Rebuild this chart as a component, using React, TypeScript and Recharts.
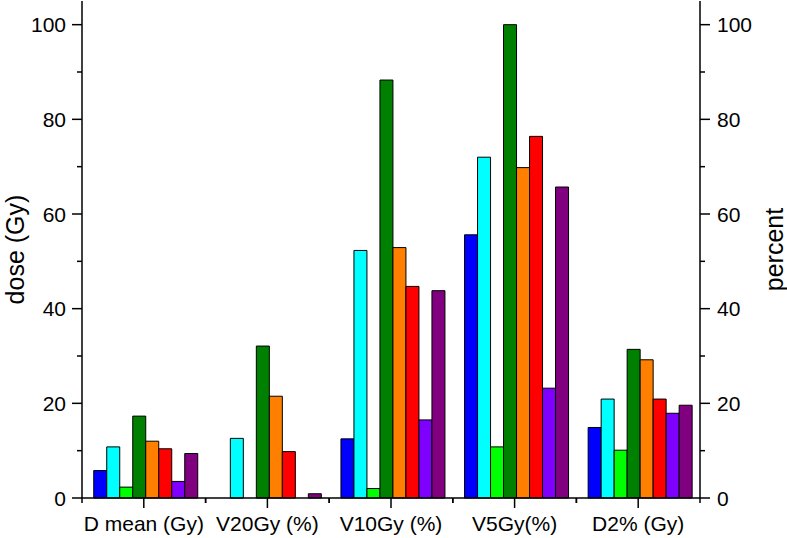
import { BarChart, Bar, XAxis, YAxis } from 'recharts'

const categories = ['D mean (Gy)', 'V20Gy (%)', 'V10Gy (%)', 'V5Gy(%)', 'D2% (Gy)']
const blue = [5.8, 0, 12.5, 55.6, 14.9]
const cyan = [10.8, 12.6, 52.3, 72.0, 20.9]
const lime = [2.3, 0, 2.0, 10.8, 10.1]
const darkGreen = [17.3, 32.1, 88.3, 100, 31.4]
const orange = [12.0, 21.5, 52.9, 69.8, 29.2]
const red = [10.4, 9.8, 44.7, 76.4, 20.9]
const violet = [3.5, 0, 16.5, 23.2, 17.9]
const purple = [9.4, 0.9, 43.8, 65.7, 19.6]
const yTicks = [0, 10, 20, 30, 40, 50, 60, 70, 80, 90, 100]

// both axes share the 0-105 scale, so half the series hang on the right one
const series = [
  { key: 'blue', values: blue, color: '#0000ff', axis: 'left' },
  { key: 'cyan', values: cyan, color: '#00ffff', axis: 'left' },
  { key: 'lime', values: lime, color: '#00ff00', axis: 'left' },
  { key: 'darkGreen', values: darkGreen, color: '#008000', axis: 'left' },
  { key: 'orange', values: orange, color: '#ff8000', axis: 'right' },
  { key: 'red', values: red, color: '#ff0000', axis: 'right' },
  { key: 'violet', values: violet, color: '#8000ff', axis: 'right' },
  { key: 'purple', values: purple, color: '#800080', axis: 'right' },
]

const data = categories.map((name, i) => {
  const row: any = { name }
  series.forEach(s => { row[s.key] = s.values[i] })
  return row
})

const W = 787
const H = 538
const LEFT_W = 82
const RIGHT_W = 87
const PLOT_W = W - LEFT_W - RIGHT_W
const FONT = '"Liberation Sans", Arial, sans-serif'

function LeftTick(props: any) {
  const { x, y, payload } = props
  const major = payload.value % 20 === 0
  return (
    <g>
      <line x1={x} x2={x - (major ? 10 : 5)} y1={y} y2={y} stroke="#000" strokeWidth={1.5} />
      {major && (
        <text x={x - 16} y={y} dy="0.36em" textAnchor="end" fontSize={21} fill="#000" fontFamily={FONT}>
          {payload.value}
        </text>
      )}
    </g>
  )
}

function RightTick(props: any) {
  const { x, y, payload } = props
  const major = payload.value % 20 === 0
  return (
    <g>
      <line x1={x} x2={x + (major ? 10 : 5)} y1={y} y2={y} stroke="#000" strokeWidth={1.5} />
      {major && (
        <text x={x + 17} y={y} dy="0.36em" textAnchor="start" fontSize={21} fill="#000" fontFamily={FONT}>
          {payload.value}
        </text>
      )}
    </g>
  )
}

function BottomTick(props: any) {
  const { x, y, payload } = props
  const half = PLOT_W / categories.length / 2
  return (
    <g>
      <line x1={x} x2={x} y1={y} y2={y + 10} stroke="#000" strokeWidth={1.5} />
      <line x1={x - half} x2={x - half} y1={y} y2={y + 5} stroke="#000" strokeWidth={1.5} />
      <line x1={x + half} x2={x + half} y1={y} y2={y + 5} stroke="#000" strokeWidth={1.5} />
      <text x={x} y={y + 33} textAnchor="middle" fontSize={21} fill="#000" fontFamily={FONT}>
        {payload.value}
      </text>
    </g>
  )
}

export default function App() {
  return (
    <div style={{ position: 'absolute', left: 0, top: 0, background: '#fff' }}>
      <BarChart
        width={W}
        height={H}
        data={data}
        margin={{ top: 1, right: 0, bottom: 0, left: 0 }}
        barCategoryGap="9.5%"
        barGap={0}
      >
        <XAxis
          dataKey="name"
          height={40}
          tick={<BottomTick />}
          tickSize={0}
          tickMargin={0}
          tickLine={false}
          interval={0}
          axisLine={{ stroke: '#000', strokeWidth: 1.5 }}
        />
        <YAxis
          yAxisId="left"
          orientation="left"
          width={LEFT_W}
          domain={[0, 105]}
          ticks={yTicks}
          interval={0}
          tick={<LeftTick />}
          tickSize={0}
          tickMargin={0}
          tickLine={false}
          axisLine={{ stroke: '#000', strokeWidth: 1.5 }}
          label={{
            value: 'dose (Gy)',
            angle: -90,
            position: 'insideLeft',
            offset: 15,
            style: { textAnchor: 'middle', fontSize: 25, fill: '#000', fontFamily: FONT },
          }}
        />
        <YAxis
          yAxisId="right"
          orientation="right"
          width={RIGHT_W}
          domain={[0, 105]}
          ticks={yTicks}
          interval={0}
          tick={<RightTick />}
          tickSize={0}
          tickMargin={0}
          tickLine={false}
          axisLine={{ stroke: '#000', strokeWidth: 1.5 }}
          label={{
            value: 'percent',
            angle: -90,
            position: 'insideRight',
            offset: 13,
            style: { textAnchor: 'middle', fontSize: 25, fill: '#000', fontFamily: FONT },
          }}
        />
        {series.map(s => (
          <Bar
            key={s.key}
            yAxisId={s.axis}
            dataKey={s.key}
            fill={s.color}
            stroke="#000"
            strokeWidth={1}
            isAnimationActive={false}
          />
        ))}
      </BarChart>
    </div>
  )
}
